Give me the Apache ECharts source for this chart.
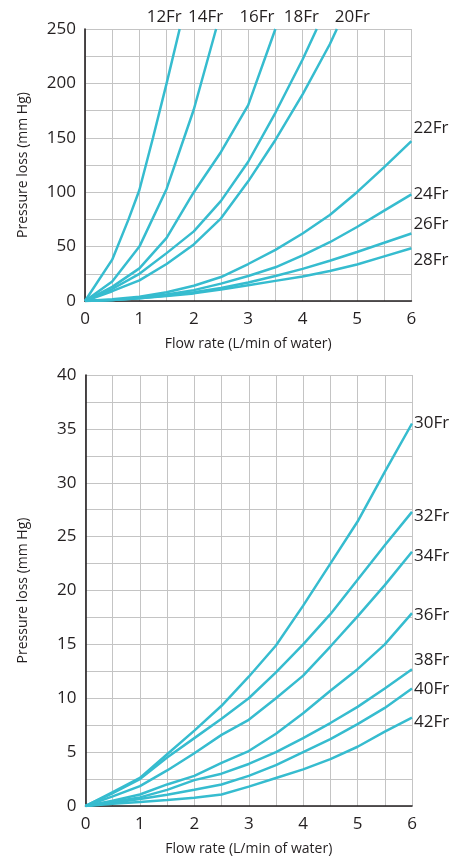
<!DOCTYPE html>
<html>
<head>
<meta charset="utf-8">
<script src="https://cdn.jsdelivr.net/npm/echarts@6/dist/echarts.min.js"></script>
<style>
html,body{margin:0;padding:0;background:#fff;}
#chart{width:465px;height:861px;}
</style>
</head>
<body>
<div id="chart"></div>
<script>
// ---- Data (top chart: [flow, pressure] pairs) ----
const fr12 = [[0,0],[0.5,38],[0.8,75],[1,102],[1.25,150],[1.5,200],[1.74,250]];
const fr14 = [[0,0],[0.5,18],[1,50],[1.5,103],[2,176],[2.41,250]];
const fr16 = [[0,0],[0.5,13],[1,30],[1.5,58],[2,100],[2.5,137],[3,180],[3.5,250]];
const fr18 = [[0,0],[0.5,11],[1,25],[1.5,44],[2,64],[2.5,92],[3,128],[3.5,173],[4,222],[4.26,250]];
const fr20 = [[0,0],[0.5,9],[1,19],[1.5,34],[2,52],[2.5,76],[3,110],[3.5,148],[4,190],[4.5,236],[4.63,250]];

const flow = [0,0.5,1,1.5,2,2.5,3,3.5,4,4.5,5,5.5,6];
const fr22 = [0,1.5,4,8,14,22,34,47,62,79,100,123,147];
const fr24 = [0,1,3,6,10,16,23,31,42,54,68,83,98];
const fr26 = [0,1,2.5,5,8,12,17,23,29.5,37,45,53.5,62];
const fr28 = [0,1,2.5,4.5,7,10.5,14.5,18.5,22.5,27.5,33.5,41,48.5];

// ---- Data (bottom chart) ----
const fr30 = [0,1.3,2.6,4.8,7.0,9.3,12.0,14.9,18.6,22.5,26.4,31.0,35.5];
const fr32 = [0,1.2,2.5,4.5,6.3,8.1,10.0,12.4,15.0,17.8,21.0,24.2,27.3];
const fr34 = [0,0.9,1.85,3.3,4.9,6.6,8.0,10.0,12.1,14.8,17.6,20.5,23.6];
const fr36 = [0,0.5,1.07,2.0,2.8,4.0,5.1,6.7,8.6,10.7,12.7,15.0,17.9];
const fr38 = [0,0.4,0.8,1.5,2.4,3.0,3.9,5.0,6.3,7.7,9.2,10.9,12.7];
const fr40 = [0,0.3,0.65,1.05,1.5,2.0,2.8,3.8,5.0,6.2,7.6,9.1,10.9];
const fr42 = [0,0.2,0.37,0.55,0.77,1.07,1.8,2.6,3.4,4.35,5.5,6.9,8.2];

const xTicks = [0,1,2,3,4,5,6];
const topYTicks = [0,50,100,150,200,250];
const botYTicks = [0,5,10,15,20,25,30,35,40];
const xName = 'Flow rate (L/min of water)';
const yName = 'Pressure loss (mm Hg)';

// ---- Styling ----
const LINE = '#36bccf';
const TXT = '#231f20';
const GRIDC = '#c4c4c4';
const FONT = 'Open Sans';

function pairs(vals){ return flow.map((x,i)=>[x, vals[i]]); }

function xAxis(gi){
  return {
    type:'value', gridIndex:gi, min:0, max:6, interval:1,
    name:xName, nameLocation:'middle', nameGap:36,
    nameTextStyle:{fontFamily:FONT, fontSize:14, color:TXT},
    axisLine:{show:true, onZero:false, lineStyle:{color:TXT, width:1.6}},
    axisTick:{show:false},
    axisLabel:{fontFamily:FONT, fontSize:17, color:TXT, margin:10},
    splitLine:{show:true, lineStyle:{color:GRIDC, width:1}},
    minorTick:{show:false, splitNumber:2},
    minorSplitLine:{show:true, lineStyle:{color:GRIDC, width:1}}
  };
}
function yAxis(gi, max, interval){
  return {
    type:'value', gridIndex:gi, min:0, max:max, interval:interval,
    name:yName, nameLocation:'middle', nameGap:55,
    nameTextStyle:{fontFamily:FONT, fontSize:14, color:TXT},
    axisLine:{show:true, lineStyle:{color:TXT, width:1.6}},
    axisTick:{show:false},
    axisLabel:{fontFamily:FONT, fontSize:17, color:TXT, margin:9},
    splitLine:{show:true, lineStyle:{color:GRIDC, width:1}},
    minorTick:{show:false, splitNumber:2},
    minorSplitLine:{show:true, lineStyle:{color:GRIDC, width:1}}
  };
}
function series(name, data, gi, dist, off){
  return {
    name:name, type:'line', xAxisIndex:gi, yAxisIndex:gi, data:data,
    symbol:'none', smooth:false, clip:true, z:3,
    lineStyle:{color:LINE, width:2.5},
    endLabel:{show:true, formatter:name, distance:dist,
      offset:off, fontFamily:FONT, fontSize:17, color:TXT},
    emphasis:{disabled:true}
  };
}

const chart = echarts.init(document.getElementById('chart'), null, {renderer:'canvas'});
chart.setOption({
  animation:false,
  backgroundColor:'#fff',
  grid:[
    {left:85, top:29, width:326.4, height:272},
    {left:85.5, top:375, width:326.5, height:435}
  ],
  xAxis:[xAxis(0), xAxis(1)],
  yAxis:[yAxis(0,250,50), yAxis(1,40,5)],
  series:[
    series('12Fr', fr12, 0, 0, [-33,-12]),
    series('14Fr', fr14, 0, 0, [-28,-12]),
    series('16Fr', fr16, 0, 0, [-36,-12]),
    series('18Fr', fr18, 0, 0, [-33,-12]),
    series('20Fr', fr20, 0, 0, [-2,-12]),
    series('22Fr', pairs(fr22), 0, 2, [0,-13]),
    series('24Fr', pairs(fr24), 0, 2, [0,0]),
    series('26Fr', pairs(fr26), 0, 2, [0,-9]),
    series('28Fr', pairs(fr28), 0, 2, [0,12]),
    series('30Fr', pairs(fr30), 1, 2, [0,0]),
    series('32Fr', pairs(fr32), 1, 2, [0,4]),
    series('34Fr', pairs(fr34), 1, 2, [0,4]),
    series('36Fr', pairs(fr36), 1, 2, [0,2]),
    series('38Fr', pairs(fr38), 1, 2, [0,-9]),
    series('40Fr', pairs(fr40), 1, 2, [0,1]),
    series('42Fr', pairs(fr42), 1, 2, [0,5])
  ]
});
</script>
</body>
</html>
